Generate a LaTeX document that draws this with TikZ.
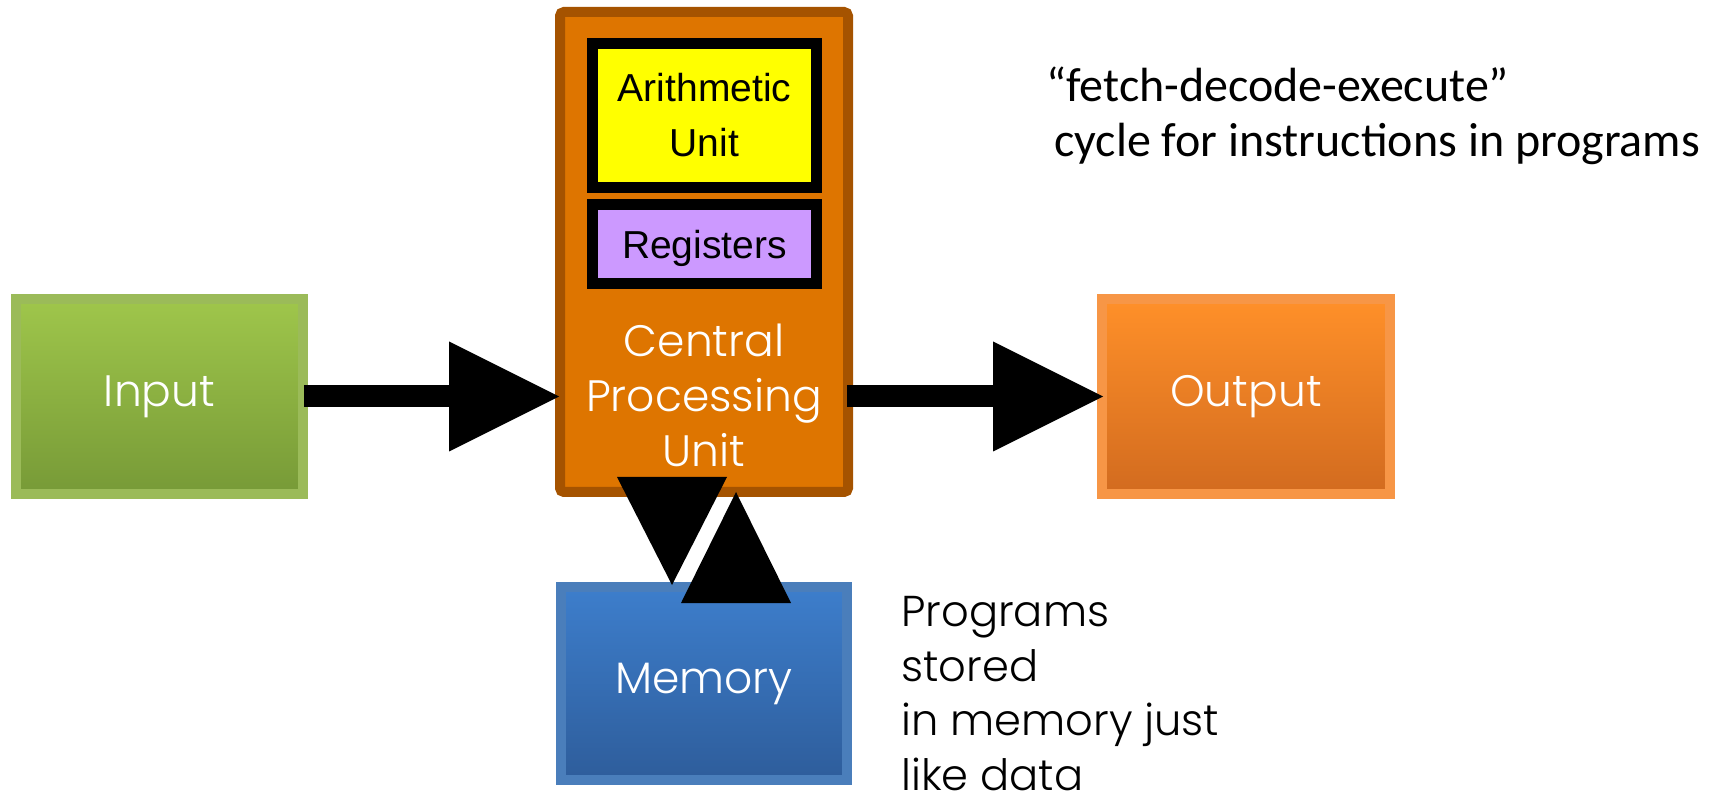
\documentclass[tikz,border=0pt]{standalone}
\usepackage{fontspec}
\setmainfont{Liberation Sans}
\newfontfamily\gothic{Poppins Light}
\newfontfamily\calib{Carlito}
\usetikzlibrary{arrows.meta,shadows,calc}
\definecolor{cpuborder}{HTML}{A55300}
\definecolor{cpufill}{HTML}{DE7500}
\definecolor{auyellow}{HTML}{FFFF00}
\definecolor{regpurple}{HTML}{CC99FF}
\definecolor{inborder}{HTML}{9BBB59}
\definecolor{intop}{HTML}{9FC64B}
\definecolor{inbottom}{HTML}{779A37}
\definecolor{outborder}{HTML}{F79646}
\definecolor{outtop}{HTML}{FF9029}
\definecolor{outbottom}{HTML}{D26B1F}
\definecolor{memborder}{HTML}{4A7EBB}
\definecolor{memtop}{HTML}{3D7ECC}
\definecolor{membottom}{HTML}{2E5D9B}
\begin{document}
\begin{tikzpicture}[x=0.5pt,y=-0.5pt,
  cpubox/.style={draw=cpuborder, fill=cpufill, line width=5pt, rounded corners=2pt, inner sep=0pt},
  unitbox/.style={draw=black, line width=5.5pt, inner sep=0pt, align=center,
    font=\fontsize{19.5pt}{27.5pt}\selectfont},
  iobox/.style={line width=5pt, inner sep=0pt, text=white,
    font=\gothic\fontsize{22pt}{27.5pt}\selectfont,
    drop shadow={opacity=0.25, shadow xshift=0.5pt, shadow yshift=-2.5pt}},
  gothictext/.style={text=white, align=center, inner sep=0pt,
    font=\gothic\fontsize{22pt}{27.5pt}\selectfont},
  progtext/.style={align=left, inner sep=0pt,
    font=\gothic\fontsize{21.6pt}{27.3pt}\selectfont},
  fdetext/.style={align=left, inner sep=0pt,
    font=\calib\fontsize{24pt}{27.5pt}\selectfont},
  bigarrow/.style={line width=11pt, -{Triangle[length=55pt,width=55pt,line width=0pt]}},
  vhead/.style={line width=0.2pt, -{Triangle[length=#1,width=55pt,line width=0pt]}}
]
\useasboundingbox (0,0) rectangle (1719,796);

% CPU and its inner units
\node[cpubox, minimum width=144pt, minimum height=240pt] (cpu) at (704,252) {};
\node[unitbox, fill=auyellow, minimum width=112pt, minimum height=72pt] (au) at (704.5,115.5) {Arithmetic\\Unit};
\node[unitbox, fill=regpurple, minimum width=112pt, minimum height=39.5pt, text depth=0pt] (reg) at (704.5,244) {Registers};
\node[gothictext] (cpulabel) at (704,395) {Central\\Processing\\Unit};

% I/O and memory
\node[iobox, draw=inborder, top color=intop, bottom color=inbottom,
  minimum width=143.5pt, minimum height=97.5pt] (input) at (159.5,396.5) {Input};
\node[iobox, draw=outborder, top color=outtop, bottom color=outbottom,
  minimum width=144pt, minimum height=97.5pt] (output) at (1246,396.5) {Output};
\node[iobox, draw=memborder, top color=memtop, bottom color=membottom,
  minimum width=143pt, minimum height=96.5pt] (memory) at (704,683.5) {Memory};

% Annotations
\node[progtext, anchor=north west] (progs) at (901,596) {Programs\\stored\\in memory just\\like data};
\node[fdetext, anchor=north west] (fde) at (1046,66) {“fetch-decode-execute”\\\hspace*{4pt}cycle for instructions in programs};

% Connectors
\draw[bigarrow, shorten <=-2pt, shorten >=-2pt] (input.east) -- (input.east -| cpu.west);
\draw[bigarrow, shorten <=-3pt, shorten >=-3pt] (cpu.east |- output.west) -- (output.west);
\draw[vhead=54pt] ([xshift=-16pt,yshift=10pt]cpu.south) -- ([xshift=-16pt,yshift=-1.5pt]memory.north);
\draw[vhead=55.5pt] ([xshift=16pt,yshift=-10.5pt]memory.north) -- ([xshift=16pt,yshift=2.5pt]cpu.south);
\end{tikzpicture}
\end{document}
